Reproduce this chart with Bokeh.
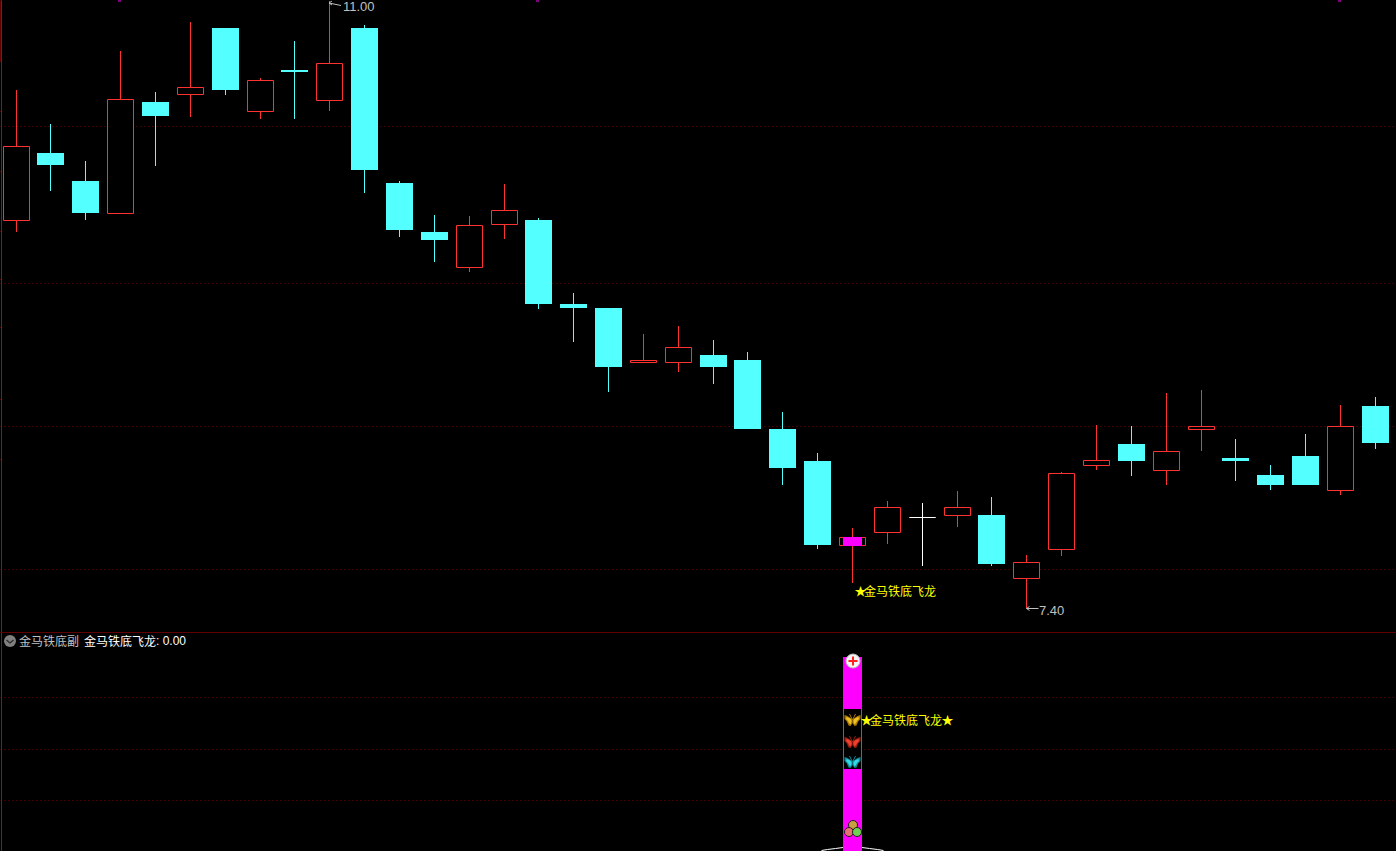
import numpy as np
from bokeh.plotting import figure
from bokeh.layouts import column
from bokeh.models import Range1d, FixedTicker
from bokeh.core.properties import value
from bokeh.embed import file_html
from bokeh.resources import INLINE

# ---- data ----
opens = [9.702,10.099,9.932,9.743,10.401,10.448,10.840,10.348,10.591,10.413,
         10.840,9.921,9.630,9.419,9.675,9.701,9.203,9.179,8.856,8.856,
         8.900,8.871,8.462,8.272,7.772,7.849,7.937,7.950,7.952,7.578,
         7.747,8.245,8.373,8.216,8.462,8.290,8.189,8.302,8.100,8.598]
highs = [10.472,10.271,10.051,10.703,10.460,10.875,10.840,10.543,10.763,11.000,
         10.858,9.932,9.731,9.725,9.915,9.713,9.268,9.179,9.025,9.072,
         8.989,8.918,8.562,8.319,7.874,8.035,8.023,8.094,8.058,7.714,
         8.207,8.485,8.479,8.675,8.693,8.402,8.248,8.432,8.604,8.651]
lows = [9.632,9.875,9.703,9.740,10.023,10.314,10.443,10.302,10.302,10.349,
        9.863,9.602,9.454,9.395,9.590,9.173,8.979,8.683,8.853,8.801,
        8.730,8.463,8.131,7.752,7.548,7.781,7.651,7.882,7.651,7.400,
        7.710,8.220,8.185,8.131,8.333,8.155,8.102,8.131,8.072,8.345]
closes = [10.137,10.027,9.743,10.413,10.318,10.484,10.472,10.526,10.579,10.626,
          9.998,9.642,9.584,9.667,9.758,9.203,9.179,8.831,8.868,8.944,
          8.831,8.463,8.232,7.775,7.817,7.995,7.937,7.995,7.663,7.669,
          8.197,8.274,8.274,8.327,8.475,8.274,8.131,8.131,8.475,8.380]
price_grid = [10.256, 9.325, 8.476, 7.628]
price_ticks = [10.348, 9.992, 9.636, 9.351, 9.067, 8.639, 8.284]
signal_index = 24          # candle carrying the signal
signal_value = 1.0
sub_grid = [0.791, 0.523, 0.260]
marker_candles = [3, 15, 38]
high_label, low_label = "11.00", "7.40"
star = "★"
signal_name = "金马铁底飞龙"
legend_name, legend_item, legend_value = "金马铁底副", "金马铁底飞龙", ": 0.00"

# ---- styles / layout helpers ----
W, H_MAIN, H_SUB = 1396, 632, 219
RED, CYAN, WHITE, MAG = "#ff3232", "#54ffff", "#ffffff", "#ff00ff"
AXIS, GRID, GREY, YEL = "#c00000", "#800000", "#c0c0c0", "#ffff00"
CJK = value("Noto Sans CJK SC")
LATIN = value("Liberation Sans")
K = 3.6 / 607
SUBK = 194.0
BG = {"background-color": "black"}

def row_of(p): return (11.0 - np.asarray(p, float)) / K + 1
def price_of(r): return 11.0 - (np.asarray(r, float) - 1) * K
def snap_edge(p): return price_of(np.round(row_of(p)))
def top_row(p): return np.floor(row_of(p) - 0.3)
def bot_row(p): return np.round(row_of(p) - 0.1)
def sub_of(r): return (851 - np.asarray(r, float)) / SUBK

n = len(opens)
xs = np.floor(16.1 + 34.85 * np.arange(n)) + 0.5
o, h, l, c = map(np.array, (opens, highs, lows, closes))
up = c > o; down = c < o; flat = c == o
wick_col = [RED if u else (CYAN if d else WHITE) for u, d in zip(up, down)]
# the svg canvas draws half a pixel off, the ranges take that back
x_range = Range1d(0.5, W + 0.5)

def base(height):
    f = figure(width=W, height=height, x_range=x_range, output_backend="svg",
               toolbar_location=None, background_fill_color="black",
               border_fill_color="black", outline_line_color=None,
               min_border_left=0, min_border_right=0, min_border_top=0, min_border_bottom=0,
               styles=BG)
    f.xaxis.visible = False
    f.xgrid.visible = False
    f.yaxis.visible = False
    g = f.ygrid[0]
    g.grid_line_color = GRID
    g.grid_line_dash = "1 3"
    g.grid_line_width = 1
    return f

def label(f, x, r, txt, color=WHITE, font=CJK, size="12px", to_y=None):
    f.text([x], [float(to_y(r))], [txt], text_color=color, text_font=font,
           text_font_size=value(size), text_baseline="middle", text_align="left")

# ---- main panel ----
p1 = base(H_MAIN)
p1.y_range = Range1d(float(price_of(632.5)), float(price_of(0.5)))
p1.ygrid[0].ticker = FixedTicker(ticks=[float(v) for v in price_of(np.floor(row_of(price_grid)) + 0.5)])

p1.segment(xs, snap_edge(h), xs, snap_edge(l), line_color=wick_col, line_width=1)
hollow = up | flat
body_top = np.maximum(o, c); body_bot = np.minimum(o, c)
p1.vbar(xs[hollow], width=26, top=price_of(top_row(body_top[hollow]) + 0.5), bottom=price_of(bot_row(body_bot[hollow]) + 0.5),
        fill_color="black", line_color=[wick_col[i] for i in np.where(hollow)[0]], line_width=1)
p1.vbar(xs[down], width=27, top=snap_edge(o[down]), bottom=snap_edge(c[down]),
        fill_color=CYAN, line_color=None)
s = signal_index
p1.vbar([xs[s]], width=19, top=price_of(top_row([c[s]])), bottom=price_of(bot_row([o[s]]) + 1), fill_color=MAG, line_color=None)

# left rail with its ticks, current-range bar and top markers
p1.segment([1.5], [price_of(0)], [1.5], [price_of(633)], line_color=AXIS)
tick_rows = np.round(row_of(price_ticks)) + 0.5
p1.segment(np.zeros(len(tick_rows)), price_of(tick_rows), np.full(len(tick_rows), 1.0), price_of(tick_rows), line_color=AXIS)
p1.quad(left=[0], right=[2], top=[price_of(0)], bottom=[price_of(62)], fill_color=AXIS, line_color=None)
mx = xs[marker_candles] - 1
p1.quad(left=mx - 1.5, right=mx + 1.5, top=price_of(0), bottom=price_of(1.5), fill_color=MAG, line_color=None)

# high / low tags
hi = int(np.argmax(h)); lo = int(np.argmin(l))
ax0, ay0 = xs[hi] - 0.5, price_of(3)
p1.multi_line([[ax0, ax0 + 3], [ax0, ax0 + 3], [ax0, ax0 + 12]],
              [[ay0, price_of(1)], [ay0, price_of(5)], [ay0, price_of(5.5)]], line_color=GREY)
label(p1, xs[hi] + 13.5, 6, high_label, GREY, LATIN, size="13px", to_y=price_of)
bx0, by0 = xs[lo], price_of(608.5)
p1.multi_line([[bx0, bx0 + 3], [bx0, bx0 + 3], [bx0, bx0 + 12]],
              [[by0, price_of(606.5)], [by0, price_of(610.5)], [by0, by0]], line_color=GREY)
label(p1, xs[lo] + 12.5, 610, low_label, GREY, LATIN, size="13px", to_y=price_of)
label(p1, xs[s] + 2, 590.5, star, YEL, to_y=price_of)
label(p1, xs[s] + 11.5, 590, signal_name, YEL, to_y=price_of)

# ---- sub panel ----
p2 = base(H_SUB)
p2.y_range = Range1d(float(sub_of(851.5)), float(sub_of(632.5)))
p2.ygrid[0].ticker = FixedTicker(ticks=[float(v) for v in sub_of(np.floor(851 - np.array(sub_grid) * SUBK) + 0.5)])
p2.segment([0], [sub_of(632.5)], [W + 1], [sub_of(632.5)], line_color=AXIS)
p2.segment([1.5], [sub_of(632)], [1.5], [sub_of(852)], line_color=AXIS)

cx = xs[s]
p2.vbar([cx], width=19, top=[signal_value], bottom=[0], fill_color=MAG, line_color=None)
p2.quad(left=[cx - 8.5], right=[cx + 8.5], top=[sub_of(709)], bottom=[sub_of(769)], fill_color="black", line_color=None)

# flanking white curve
curve_dx = np.array([-31, -25, -17, -9.5])
curve_r = np.array([850.5, 849.5, 848.5, 847.5])
p2.line(cx + curve_dx, sub_of(curve_r), line_color=WHITE)
p2.line(cx - curve_dx, sub_of(curve_r), line_color=WHITE)

# butterflies
wing_out = [(0, -1), (2, -2), (5, -4), (8, -5), (8, -1), (6, 1), (5, 3), (4, 5.5), (2, 6), (0, 3)]
wing_in = [(1, 0), (3, -2), (6, -3), (6.5, -1), (4.5, 1), (3.5, 3), (2, 4.5), (1, 2)]
def wing_shapes(shape, r):
    a = [cx + dx for dx, dy in shape]; b = [cx - dx for dx, dy in shape]
    ys = [float(sub_of(r + dy)) for dx, dy in shape]
    return [a, b], [ys, ys]
for r, dark, bright in [(720, "#a87800", "#f0c020"), (742, "#a02010", "#f04030"), (762, "#108898", "#30d8e8")]:
    xx, yy = wing_shapes(wing_out, r)
    p2.patches(xx, yy, fill_color=dark, line_color=None)
    xx, yy = wing_shapes(wing_in, r)
    p2.patches(xx, yy, fill_color=bright, line_color=None)
    p2.multi_line([[cx, cx - 3], [cx, cx + 3]],
                  [[float(sub_of(r)), float(sub_of(r - 6))], [float(sub_of(r)), float(sub_of(r - 6))]],
                  line_color=dark, line_width=1)

# plus badge and three balls
by = float(sub_of(661))
p2.scatter([cx + 0.5], [by], size=14, marker="circle", fill_color="#f4f4f4", line_color="#bbbbbb")
p2.segment([cx - 4, cx + 0.5], [by, float(sub_of(665.5))], [cx + 5, cx + 0.5], [by, float(sub_of(656.5))],
           line_color="#ff2020", line_width=2)
p2.scatter([cx + 0.5, cx - 3.5, cx + 4.5], list(sub_of([825, 832, 832])), size=9, marker="circle",
           fill_color=["#c8a040", "#e87070", "#70d050"], line_color="#202020", line_width=1)

label(p2, cx + 8, 719.5, star, YEL, to_y=sub_of)
label(p2, cx + 17.5, 719, signal_name, YEL, to_y=sub_of)
label(p2, cx + 89, 719.5, star, YEL, to_y=sub_of)

# legend line
p2.scatter([10], [float(sub_of(641))], size=12, marker="circle", fill_color="#808080", line_color=None)
p2.line([6.5, 10, 13.5], list(sub_of([640, 643, 640])), line_color="#303030", line_width=1.5)
label(p2, 19, 640.5, legend_name, GREY, to_y=sub_of)
label(p2, 84, 640.5, legend_item, WHITE, to_y=sub_of)
label(p2, 156, 641, legend_value, WHITE, LATIN, to_y=sub_of)

page = column(p1, p2, spacing=0, styles={"position": "fixed", "left": "0", "top": "0", "background-color": "black"})
open("out.html", "w").write(file_html(page, INLINE))
